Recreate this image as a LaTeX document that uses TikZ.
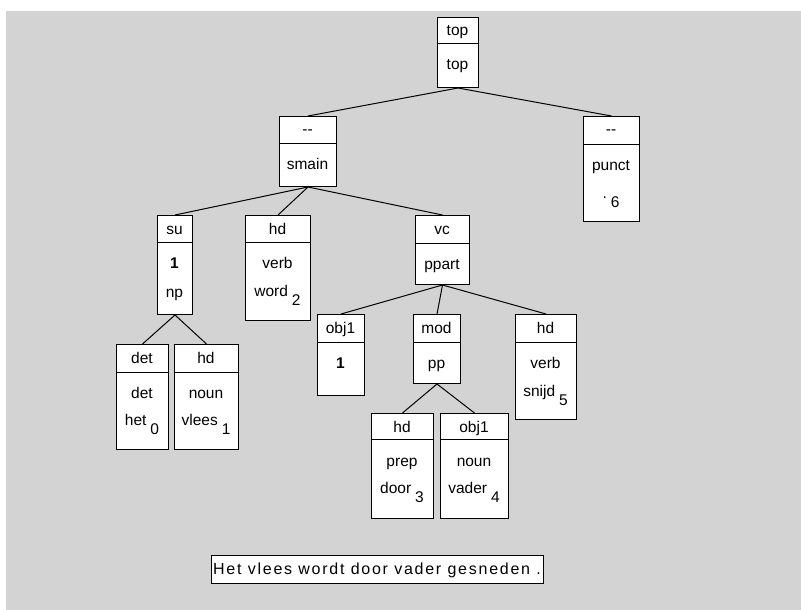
\documentclass[tikz,border=0pt]{standalone}
\usepackage{fontspec}
\setmainfont{Liberation Sans}
\newfontfamily\sentfont[LetterSpace=11]{Liberation Sans}
\definecolor{bggray}{HTML}{D3D3D3}
\tikzset{
  treebox/.style={draw=black, fill=white, line width=1pt, inner sep=0pt, anchor=north west},
  txt/.style={anchor=base, inner sep=0pt, font=\fontsize{15.5}{18}\selectfont},
  edge/.style={draw=black, line width=1pt},
}
% \tbox{name}{x1}{y1}{x2}{y2}{ydiv}{label}
\newcommand\tbox[7]{%
  \node[treebox, minimum width={#4-#2}, minimum height={#5-#3}] (#1) at (#2,#3) {};
  \draw[line width=1pt] (#2,#6) -- (#4,#6);
  \node[txt] (#1-lab) at ({(#2+#4)/2},{#3+19}) {#7};
}
% \tline{name}{xc}{ybase}{text}
\newcommand\tline[4]{\node[txt] (#1) at (#2,#3) {#4};}
\newcommand\wsub[2]{#1\hspace{4pt}\raisebox{-9pt}{#2}}
\begin{document}
\begin{tikzpicture}[x=1pt,y=-1pt]
\useasboundingbox (0,0) rectangle (801,610);
\fill[white] (0,0) rectangle (801,610);
\fill[bggray] (6,11) rectangle (801,610);

% boxes
\tbox{ntop}{437}{17}{478}{87}{44}{top}
\tline{ntop-c1}{457.5}{70}{top}

\tbox{nsmain}{279}{116}{336}{186}{143}{-{}-}
\tline{nsmain-c1}{307.5}{169}{smain}

\tbox{npunct}{583}{116}{639}{221}{144}{-{}-}
\tline{npunct-c1}{611}{170}{punct}
\tline{npunct-c2}{611}{198}{\wsub{.}{6}}

\tbox{nsu}{157}{215}{192}{314}{242}{su}
\tline{nsu-c1}{174.5}{268}{\textbf{1}}
\tline{nsu-c2}{174.5}{297}{np}

\tbox{nverb}{245}{215}{310}{320}{242}{hd}
\tline{nverb-c1}{277.5}{268}{verb}
\tline{nverb-c2}{277.5}{296}{\wsub{word}{2}}

\tbox{nvc}{415}{215}{469}{284}{243}{vc}
\tline{nvc-c1}{442}{269}{ppart}

\tbox{ndet}{116}{344}{168}{449}{372}{det}
\tline{ndet-c1}{142}{398}{det}
\tline{ndet-c2}{142}{425}{\wsub{het}{0}}

\tbox{nnoun}{174}{344}{238}{449}{372}{hd}
\tline{nnoun-c1}{206}{398}{noun}
\tline{nnoun-c2}{206}{425}{\wsub{vlees}{1}}

\tbox{nobj}{317}{314}{364}{395}{342}{obj1}
\tline{nobj-c1}{340.5}{368}{\textbf{1}}

\tbox{nmod}{413}{314}{460}{383}{342}{mod}
\tline{nmod-c1}{436.5}{368}{pp}

\tbox{nsnijd}{515}{314}{576}{419}{342}{hd}
\tline{nsnijd-c1}{545.5}{368}{verb}
\tline{nsnijd-c2}{545.5}{396}{\wsub{snijd}{5}}

\tbox{nprep}{371}{413}{433}{518}{439}{hd}
\tline{nprep-c1}{402}{466}{prep}
\tline{nprep-c2}{402}{493}{\wsub{door}{3}}

\tbox{nvader}{440}{413}{508}{518}{439}{obj1}
\tline{nvader-c1}{474}{466}{noun}
\tline{nvader-c2}{474}{493}{\wsub{vader}{4}}

% connectors
\draw[edge] (ntop.south) -- (nsmain.north);
\draw[edge] (ntop.south) -- (npunct.north);
\draw[edge] (nsmain.south) -- (nsu.north);
\draw[edge] (nsmain.south) -- (nverb.north);
\draw[edge] (nsmain.south) -- (nvc.north);
\draw[edge] (nsu.south) -- (ndet.north);
\draw[edge] (nsu.south) -- (nnoun.north);
\draw[edge] (nvc.south) -- (nobj.north);
\draw[edge] (nvc.south) -- (nmod.north);
\draw[edge] (nvc.south) -- (nsnijd.north);
\draw[edge] (nmod.south) -- (nprep.north);
\draw[edge] (nmod.south) -- (nvader.north);

% sentence
\node[treebox, minimum width=332, minimum height=28] (nsent) at (211,555) {};
\node[anchor=base, inner sep=0pt, font=\sentfont\fontsize{16}{19}\selectfont] (nsent-t) at (377,574) {Het vlees wordt door vader gesneden .};
\end{tikzpicture}
\end{document}
